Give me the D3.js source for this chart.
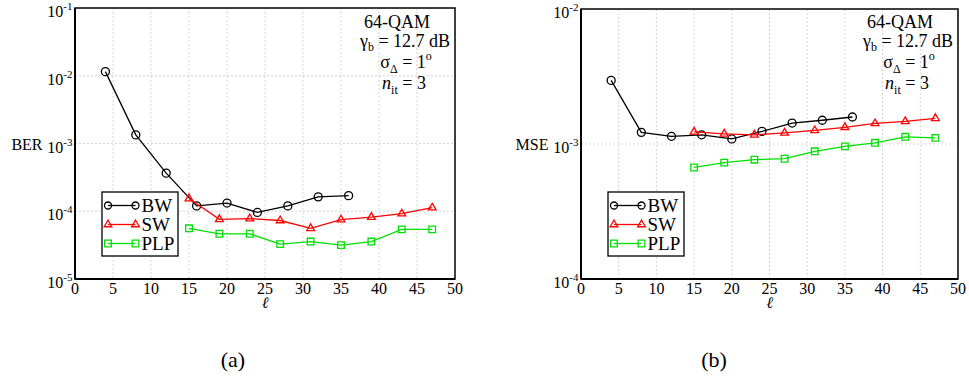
<!DOCTYPE html>
<html>
<head>
<meta charset="utf-8">
<script src="https://cdn.jsdelivr.net/npm/d3@7"></script>
<style>
  body { margin: 0; background: #fff; }
</style>
</head>
<body>
<svg id="chart" width="969" height="383" font-family="'Liberation Serif', Tinos, 'Times New Roman', Times, 'Nimbus Roman', 'DejaVu Serif', serif"></svg>
<script>
// window length values (x axis)
const ellBW  = [4, 8, 12, 16, 20, 24, 28, 32, 36];
const ellSW  = [15, 19, 23, 27, 31, 35, 39, 43, 47];
const ellPLP = [15, 19, 23, 27, 31, 35, 39, 43, 47];

// panel (a): BER
const berBW  = [1.15e-2, 1.34e-3, 3.65e-4, 1.2e-4, 1.32e-4, 9.6e-5, 1.2e-4, 1.63e-4, 1.7e-4];
const berSW  = [1.54e-4, 7.6e-5, 7.8e-5, 7.3e-5, 5.6e-5, 7.5e-5, 8.2e-5, 9.2e-5, 1.13e-4];
const berPLP = [5.6e-5, 4.65e-5, 4.65e-5, 3.27e-5, 3.57e-5, 3.16e-5, 3.57e-5, 5.4e-5, 5.4e-5];

// panel (b): MSE
const mseBW  = [2.96e-3, 1.22e-3, 1.14e-3, 1.17e-3, 1.09e-3, 1.24e-3, 1.43e-3, 1.5e-3, 1.585e-3];
const mseSW  = [1.23e-3, 1.19e-3, 1.17e-3, 1.21e-3, 1.26e-3, 1.33e-3, 1.42e-3, 1.47e-3, 1.55e-3];
const msePLP = [6.7e-4, 7.28e-4, 7.65e-4, 7.78e-4, 8.83e-4, 9.6e-4, 1.02e-3, 1.13e-3, 1.11e-3];

const seriesNames = ["BW", "SW", "PLP"];
const seriesColors = ["#000000", "#ff0000", "#00e000"];
const seriesMarkers = ["circle", "triangle", "square"];

const xTicks = [0, 5, 10, 15, 20, 25, 30, 35, 40, 45, 50];
const berExps = [-5, -4, -3, -2, -1];
const mseExps = [-4, -3, -2];
const panelLabels = ["(a)", "(b)"];
const yLabels = ["BER", "MSE"];

const svg = d3.select("#chart");

const panels = [
  { left: 75, right: 455, top: 8, bottom: 279, tagX: 233, exps: berExps, ylab: yLabels[0], tag: panelLabels[0],
    series: [[ellBW, berBW], [ellSW, berSW], [ellPLP, berPLP]] },
  { left: 581, right: 958, top: 9, bottom: 279, tagX: 714, exps: mseExps, ylab: yLabels[1], tag: panelLabels[1],
    series: [[ellBW, mseBW], [ellSW, mseSW], [ellPLP, msePLP]] }
];

function marker(sel, kind, color, r) {
  if (kind === "circle") {
    sel.append("circle").attr("r", r).attr("fill", "none")
      .attr("stroke", color).attr("stroke-width", 1.3);
  } else {
    const type = kind === "triangle" ? d3.symbolTriangle : d3.symbolSquare;
    const size = kind === "triangle" ? 26 : 44;
    sel.append("path").attr("d", d3.symbol().type(type).size(size))
      .attr("fill", "none").attr("stroke", color).attr("stroke-width", 1.3);
  }
}

panels.forEach(function(p) {
  const x = d3.scaleLinear().domain([0, 50]).range([p.left, p.right]);
  const y = d3.scaleLog()
    .domain([Math.pow(10, p.exps[0]), Math.pow(10, p.exps[p.exps.length - 1])])
    .range([p.bottom, p.top]);

  const g = svg.append("g");

  // grid
  g.selectAll(".vg").data(xTicks.slice(1, -1)).join("line")
    .attr("x1", d => x(d)).attr("x2", d => x(d))
    .attr("y1", p.top).attr("y2", p.bottom)
    .attr("stroke", "#d4d4d4").attr("stroke-width", 1).attr("stroke-dasharray", "2,2");
  g.selectAll(".hg").data(p.exps.slice(1, -1)).join("line")
    .attr("x1", p.left).attr("x2", p.right)
    .attr("y1", d => y(Math.pow(10, d))).attr("y2", d => y(Math.pow(10, d)))
    .attr("stroke", "#d4d4d4").attr("stroke-width", 1).attr("stroke-dasharray", "2,2");

  // frame
  g.append("rect")
    .attr("x", p.left).attr("y", p.top)
    .attr("width", p.right - p.left).attr("height", p.bottom - p.top)
    .attr("fill", "none").attr("stroke", "#000").attr("stroke-width", 1.5);
  g.append("line")
    .attr("x1", p.left).attr("x2", p.left).attr("y1", p.top).attr("y2", p.bottom)
    .attr("stroke", "#000").attr("stroke-width", 2);
  g.append("line")
    .attr("x1", p.left).attr("x2", p.right).attr("y1", p.bottom).attr("y2", p.bottom)
    .attr("stroke", "#000").attr("stroke-width", 2);

  // x tick labels
  g.selectAll(".xt").data(xTicks).join("text")
    .attr("x", d => x(d)).attr("y", p.bottom + 14.5)
    .attr("text-anchor", "middle").attr("font-size", 16)
    .text(d => d);

  // y tick labels 10^n
  const yt = g.selectAll(".yt").data(p.exps).join("text")
    .attr("x", p.left - 2.5).attr("y", d => y(Math.pow(10, d)) + 9)
    .attr("text-anchor", "end").attr("font-size", 16);
  yt.append("tspan").text("10");
  yt.append("tspan").attr("font-size", 11).attr("dy", -7).text(d => d);

  // axis labels
  g.append("text").attr("x", p.left - 32.5).attr("y", 150)
    .attr("text-anchor", "end").attr("font-size", 16).text(p.ylab);
  g.append("text").attr("x", (p.left + p.right) / 2).attr("y", 308)
    .attr("text-anchor", "middle").attr("font-size", 16).attr("font-style", "italic")
    .text("\u2113");

  // series
  const line = d3.line().x(d => x(d[0])).y(d => y(d[1]));
  p.series.forEach(function(s, i) {
    const pts = s[0].map((v, k) => [v, s[1][k]]);
    g.append("path").datum(pts).attr("d", line)
      .attr("fill", "none").attr("stroke", seriesColors[i]).attr("stroke-width", 1.3);
    g.selectAll(".m" + i).data(pts).join("g")
      .attr("transform", d => `translate(${x(d[0])},${y(d[1])})`)
      .each(function() { marker(d3.select(this), seriesMarkers[i], seriesColors[i], 4); });
  });

  // legend
  const lg = g.append("g").attr("transform", `translate(${p.left + 27},192)`);
  lg.append("rect").attr("width", 76).attr("height", 64)
    .attr("fill", "#fff").attr("stroke", "#000").attr("stroke-width", 1.3);
  seriesNames.forEach(function(name, i) {
    const yy = 13.5 + i * 19;
    lg.append("line").attr("x1", 6).attr("x2", 33.5).attr("y1", yy).attr("y2", yy)
      .attr("stroke", seriesColors[i]).attr("stroke-width", 1.3);
    [6, 33.5].forEach(function(mx) {
      const mg = lg.append("g").attr("transform", `translate(${mx},${yy})`);
      marker(mg, seriesMarkers[i], seriesColors[i], 3.5);
    });
    lg.append("text").attr("x", 39.5).attr("y", yy + 6.8).attr("font-size", 19).text(name);
  });

  // annotation
  const cx = p.right - 52;
  const a = g.append("g").attr("font-size", 18).attr("text-anchor", "middle");
  a.append("text").attr("x", cx - 6).attr("y", 28).text("64-QAM");
  const t2 = a.append("text").attr("x", cx + 2).attr("y", 46.5);
  t2.append("tspan").text("\u03b3");
  t2.append("tspan").attr("font-size", 12).attr("dy", 4).text("b");
  t2.append("tspan").attr("dy", -4).text(" = 12.7 dB");
  const t3 = a.append("text").attr("x", cx + 3).attr("y", 67.5);
  t3.append("tspan").text("\u03c3");
  t3.append("tspan").attr("font-size", 12).attr("dy", 5).text("\u0394");
  t3.append("tspan").attr("dy", -5).text(" = 1");
  t3.append("tspan").attr("font-size", 12).attr("dy", -8).text("o");
  const t4 = a.append("text").attr("x", cx + 1).attr("y", 89);
  t4.append("tspan").attr("font-style", "italic").text("n");
  t4.append("tspan").attr("font-size", 12).attr("dy", 5).text("it");
  t4.append("tspan").attr("dy", -5).text(" = 3");

  // panel tag
  g.append("text").attr("x", p.tagX).attr("y", 367)
    .attr("text-anchor", "middle").attr("font-size", 22).text(p.tag);
});
</script>
</body>
</html>
